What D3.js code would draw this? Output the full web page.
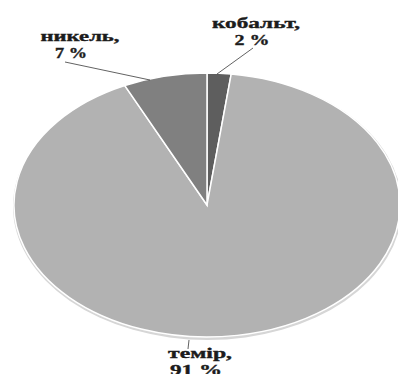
<!DOCTYPE html>
<html>
<head>
<meta charset="utf-8">
<script src="https://cdn.jsdelivr.net/npm/d3@7"></script>
<style>
  html, body { margin: 0; padding: 0; background: #fff; }
  svg { display: block; }
  .lbl { font-family: "Liberation Serif", "DejaVu Serif", serif; font-weight: bold; font-size: 14px; fill: #1c1c1c; stroke: #1c1c1c; stroke-width: 0.35px; }
</style>
</head>
<body>
<svg id="chart" width="398" height="374"></svg>
<script>
// data, in drawing order (clockwise from 12 o'clock)
const metals = ["кобальт", "темір", "никель"];
const shares = [2, 91, 7];
const sliceColors = ["#5e5e5e", "#b2b2b2", "#808080"];

// label layout: [line start x,y], [line end x,y], [text centre x, first baseline y], widths of the two lines
const labelLayout = [
  { line: [[217, 74], [253, 48]], x: [256, 252], y: 28, w: [88, 35] },
  { line: [[189, 340], [188, 349]], x: [200, 196], y: 358, w: [64, 52] },
  { line: [[150, 80], [65, 62]], x: [80, 71], y: 41, w: [79, 32] }
];

const svg = d3.select('#chart');
const cx = 207, cy = 205, rx = 193, ry = 132;

// soft edge shadow behind the pie
svg.append('ellipse')
  .attr('cx', cx + 0.5).attr('cy', cy + 1.5)
  .attr('rx', rx + 1.5).attr('ry', ry + 1.5)
  .attr('fill', '#d6d6d6');

const pie = d3.pie().sort(null).value(d => d);
const arcs = pie(shares);
const arc = d3.arc().innerRadius(0).outerRadius(ry);

const g = svg.append('g')
  .attr('transform', `translate(${cx},${cy}) scale(${rx / ry},1)`);

g.selectAll('path.slice')
  .data(arcs)
  .join('path')
  .attr('class', 'slice')
  .attr('d', arc)
  .attr('fill', (d, i) => sliceColors[i])
  .attr('stroke', '#fff')
  .attr('stroke-width', 1.5)
  .attr('vector-effect', 'non-scaling-stroke');

// leader lines
svg.selectAll('line.leader')
  .data(labelLayout)
  .join('line')
  .attr('class', 'leader')
  .attr('x1', d => d.line[0][0]).attr('y1', d => d.line[0][1])
  .attr('x2', d => d.line[1][0]).attr('y2', d => d.line[1][1])
  .attr('stroke', '#3a3a3a')
  .attr('stroke-width', 0.8);

// labels, two lines each
labelLayout.forEach((lay, i) => {
  const lines = [metals[i] + ',', shares[i] + ' %'];
  lines.forEach((t, k) => {
    svg.append('text')
      .attr('class', 'lbl')
      .attr('x', lay.x[k])
      .attr('y', lay.y + k * 17)
      .attr('text-anchor', 'middle')
      .attr('textLength', lay.w[k])
      .attr('lengthAdjust', 'spacingAndGlyphs')
      .text(t);
  });
});
</script>
</body>
</html>
